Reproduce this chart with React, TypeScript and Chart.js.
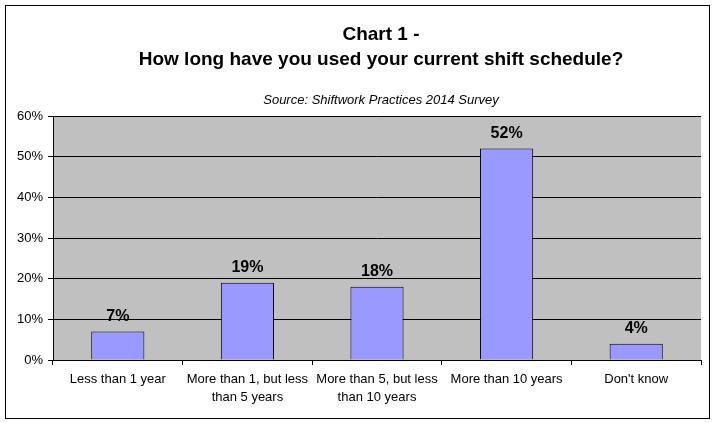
import { useEffect, useRef } from "react";
import { Chart, registerables } from "chart.js";

Chart.register(...registerables);

const categories = [
  "Less than 1 year",
  ["More than 1, but less", "than 5 years"],
  ["More than 5, but less", "than 10 years"],
  "More than 10 years",
  "Don't know",
];
const percentages = [7, 19, 18, 52, 4];
const yTicks = [0, 10, 20, 30, 40, 50, 60];

const FONT = "'Liberation Sans', Arial, sans-serif";

const decorations = {
  id: "decorations",
  beforeDraw(chart: Chart) {
    const { ctx, chartArea } = chart;
    ctx.save();
    ctx.fillStyle = "#ffffff";
    ctx.fillRect(0, 0, chart.width, chart.height);
    ctx.fillStyle = "#c0c0c0";
    ctx.fillRect(chartArea.left, chartArea.top, chartArea.right - chartArea.left, chartArea.bottom - chartArea.top);
    ctx.restore();
  },
  afterDraw(chart: Chart) {
    const { ctx } = chart;
    ctx.save();
    // outer frame
    ctx.strokeStyle = "#000000";
    ctx.lineWidth = 1;
    ctx.strokeRect(5.5, 5.5, 704, 413);

    // titles
    ctx.fillStyle = "#000000";
    ctx.textAlign = "center";
    ctx.textBaseline = "alphabetic";
    ctx.font = `bold 19px ${FONT}`;
    ctx.fillText("Chart 1 -", 381, 40);
    ctx.fillText("How long have you used your current shift schedule?", 381, 65);
    ctx.font = `italic 13px ${FONT}`;
    ctx.fillText("Source: Shiftwork Practices 2014 Survey", 381, 104);

    // value labels
    const meta = chart.getDatasetMeta(0);
    ctx.font = `bold 16px ${FONT}`;
    meta.data.forEach((bar: any, i: number) => {
      ctx.fillText(percentages[i] + "%", bar.x, bar.y - 11);
    });
    ctx.restore();
  },
};

export default function App() {
  const chartRef = useRef<HTMLCanvasElement>(null);
  const chartInstance = useRef<Chart | null>(null);

  useEffect(() => {
    document.body.style.margin = "0";
    if (!chartRef.current) return;
    if (chartInstance.current) chartInstance.current.destroy();

    chartInstance.current = new Chart(chartRef.current, {
      type: "bar",
      data: {
        labels: categories,
        datasets: [
          {
            data: percentages,
            backgroundColor: "#9999ff",
            borderColor: "#000000",
            borderWidth: 1,
            barPercentage: 0.41,
            categoryPercentage: 1,
          },
        ],
      },
      options: {
        responsive: false,
        animation: false,
        layout: { padding: { left: 5, right: 14, top: 116, bottom: 5 } },
        plugins: {
          legend: { display: false },
          tooltip: { enabled: false },
        },
        scales: {
          x: {
            offset: true,
            grid: {
              offset: true,
              drawOnChartArea: false,
              drawTicks: true,
              tickLength: 5,
              color: "#000000",
            },
            border: { color: "#000000" },
            ticks: {
              color: "#000000",
              font: { family: FONT, size: 13, lineHeight: 1.35 },
              padding: 6,
              maxRotation: 0,
              autoSkip: false,
            },
            afterFit: (scale: any) => {
              scale.height = 58;
            },
          },
          y: {
            min: 0,
            max: 60,
            afterBuildTicks: (scale: any) => {
              scale.ticks = yTicks.map((v) => ({ value: v }));
            },
            grid: {
              color: "#000000",
              drawTicks: true,
              tickLength: 5,
            },
            border: { color: "#000000" },
            ticks: {
              color: "#000000",
              font: { family: FONT, size: 13 },
              padding: 5,
              callback: (v: any) => v + "%",
            },
            afterFit: (scale: any) => {
              scale.width = 48;
            },
          },
        },
      },
      plugins: [decorations],
    });

    return () => {
      if (chartInstance.current) {
        chartInstance.current.destroy();
        chartInstance.current = null;
      }
    };
  }, []);

  return <canvas ref={chartRef} width={715} height={423} />;
}
